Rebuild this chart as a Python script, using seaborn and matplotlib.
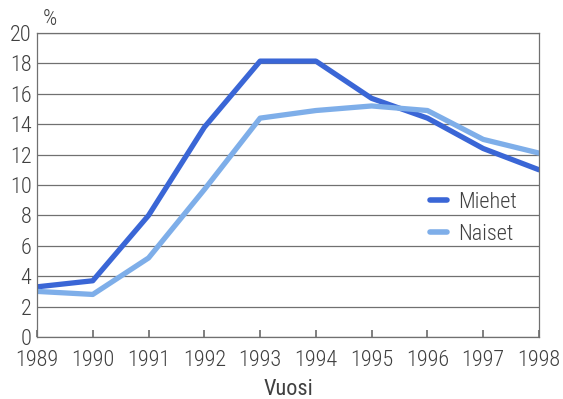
import matplotlib
matplotlib.use("Agg")
import matplotlib.pyplot as plt
import seaborn as sns
import pandas as pd
from matplotlib import font_manager

years = [1989, 1990, 1991, 1992, 1993, 1994, 1995, 1996, 1997, 1998]
miehet = [3.3, 3.7, 8.0, 13.8, 18.15, 18.15, 15.7, 14.4, 12.4, 11.0]
naiset = [3.0, 2.8, 5.2, 9.7, 14.4, 14.9, 15.2, 14.9, 13.0, 12.1]
series_names = ["Miehet", "Naiset"]
colors = ["#3a66d6", "#7eaee9"]

sns.set_theme(style="white")
avail = {f.name for f in font_manager.fontManager.ttflist}
fam = None
for cand in ["Roboto Condensed", "Liberation Sans Narrow", "Open Sans Condensed", "Noto Sans Condensed"]:
    if cand in avail:
        fam = cand
        break
if fam is None:
    fam = "DejaVu Sans"
    plt.rcParams['font.stretch'] = 'condensed'
plt.rcParams['font.family'] = [fam, 'DejaVu Sans']
plt.rcParams['font.weight'] = 'light'

df = pd.DataFrame({
    "Vuosi": years * 2,
    "value": miehet + naiset,
    "series": [series_names[0]] * len(years) + [series_names[1]] * len(years),
})

fs = 16
fig = plt.figure(figsize=(5.63, 3.99), dpi=100)
ax = fig.add_axes([37/563, 1-337/399, (539-37)/563, (337-33)/399])
sns.lineplot(data=df, x="Vuosi", y="value", hue="series", palette=colors,
             linewidth=3.8, ax=ax, legend=True)

ax.set_xlim(1989, 1998)
ax.set_ylim(0, 20)
ax.set_yticks(range(0, 21, 2))
ax.set_xticks(years)
ax.grid(axis="y", color="#707070", linewidth=0.9)
ax.set_axisbelow(True)
for s in ax.spines.values():
    s.set_color("#707070")
    s.set_linewidth(0.9)
ax.tick_params(axis="x", direction="in", length=5, color="#707070", labelsize=fs,
               labelcolor="#404040", pad=9, bottom=True)
ax.tick_params(axis="y", length=0, labelsize=fs, labelcolor="#404040", pad=4)
ax.set_ylabel("")
ax.set_xlabel("Vuosi", fontsize=fs, color="#404040", labelpad=6)
ax.text(0.012, 1.01, "%", transform=ax.transAxes, fontsize=fs, color="#404040",
        ha="left", va="bottom")

leg = ax.legend(loc="center right", bbox_to_anchor=(0.995, 0.39), frameon=False,
                fontsize=fs, handlelength=0.75, handletextpad=0.5, labelspacing=0.5)
for t in leg.get_texts():
    t.set_color("#404040")
for l in leg.get_lines():
    l.set_linewidth(4)

fig.savefig("out.png", dpi=100)
